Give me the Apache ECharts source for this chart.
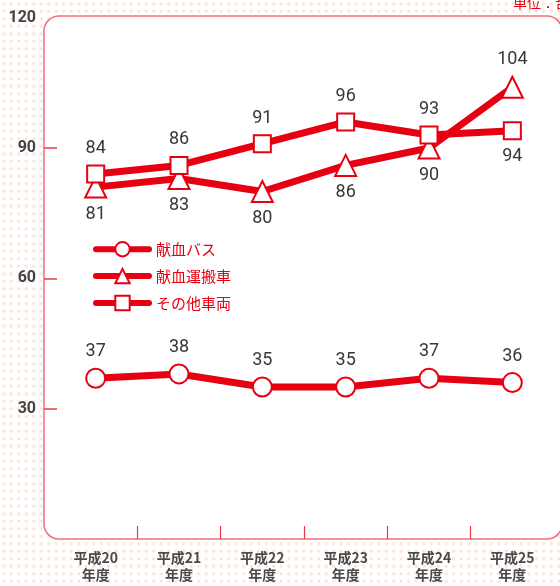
<!DOCTYPE html>
<html><head><meta charset="utf-8">
<script src="https://cdn.jsdelivr.net/npm/echarts@6/dist/echarts.min.js"></script>
<style>html,body{margin:0;padding:0;background:#fff}#c{width:560px;height:586px}</style>
</head><body><div id="c"></div><script>
const categories = ['平成20\n年度','平成21\n年度','平成22\n年度','平成23\n年度','平成24\n年度','平成25\n年度'];
const seriesNames = ['献血バス','献血運搬車','その他車両'];
const busValues = [37, 38, 35, 35, 37, 36];
const carrierValues = [81, 83, 80, 86, 90, 104];
const otherValues = [84, 86, 91, 96, 93, 94];
const yLabelValues = [30, 60, 90, 120];
const yTickMin = 30, yTickMax = 90;
const unitText = '単位：台';

const RED = '#e60012';
const TICK = '#e8384a';
const tile = document.createElement('canvas');
tile.width = 15; tile.height = 15;
const tctx = tile.getContext('2d');
tctx.fillStyle = '#ffffff'; tctx.fillRect(0,0,15,15);
tctx.fillStyle = '#fde6db';
[[3.75,3.75],[11.25,3.75],[3.75,11.25],[11.25,11.25]].forEach(p=>{tctx.beginPath();tctx.arc(p[0],p[1],1.7,0,Math.PI*2);tctx.fill();});

const chart = echarts.init(document.getElementById('c'), null, {renderer:'canvas'});
const last = (arr, pos) => arr.map((v,i)=> i===arr.length-1 ? {value:v, label:{position:pos}} : v);
const labelStyle = (pos)=>({show:true, position:pos, distance:7, color:'#383838', fontSize:18, fontFamily:'Roboto'});
const mk = (name, data, symbol, size, pos) => ({
  name, type:'line', data, symbol, symbolSize:size, showAllSymbol:true,
  xAxisIndex:0, yAxisIndex:1,
  lineStyle:{color:RED, width:7}, itemStyle:{color:'#fff', borderColor:RED, borderWidth:2},
  label: labelStyle(pos), emphasis:{disabled:true}, animation:false
});
const yMax = 120, yStep = 30;
// plot geometry (layout only)
const plotTop = 17.7, plotBottomPx = 539, H = 586;
const pxPerUnit = (plotBottomPx - plotTop) / yMax;
const tickGridTop = plotBottomPx - yTickMax * pxPerUnit;
const tickGridBottom = H - (plotBottomPx - yTickMin * pxPerUnit);

chart.setOption({
  backgroundColor:{image:tile, repeat:'repeat'},
  animation:false,
  textStyle:{fontFamily:'Roboto'},
  graphic:{
    z:-100,
    elements:[
      {type:'rect', z:-100, silent:true, shape:{x:44, y:16, width:518, height:523, r:15}, style:{fill:'#fff', stroke:'#ef6f7c', lineWidth:1.5}},
      {type:'text', x:513, y:10, style:{text:unitText, fill:RED, fontSize:14, fontFamily:'Noto Sans CJK JP', verticalAlign:'bottom'}}
    ]
  },
  legend:{
    orient:'vertical', left:88, top:236, itemWidth:53, itemHeight:18, itemGap:10.5,
    data:seriesNames,
    lineStyle:{width:6, cap:'round'},
    itemStyle:{borderWidth:2},
    textStyle:{color:RED, fontSize:15, fontFamily:'Noto Sans CJK JP', padding:[0,0,0,2]}
  },
  grid:[
    {left:44, width:13, top:tickGridTop, bottom:tickGridBottom, show:true, backgroundColor:'rgba(0,0,0,0)', borderColor:'rgba(0,0,0,0)', borderWidth:0},
    {left:54, right:6, top:plotTop, bottom:H - plotBottomPx}
  ],
  xAxis:[
    {type:'category', gridIndex:1, data:categories, boundaryGap:true,
     axisLine:{show:false}, axisTick:{show:false},
     axisLabel:{color:'#4a4a4a', fontSize:14, fontWeight:'bold', fontFamily:'Noto Sans CJK JP', lineHeight:17, margin:10, interval:0}},
    {type:'value', gridIndex:1, min:0, max:categories.length, position:'bottom',
     axisLine:{show:false}, axisLabel:{show:false}, splitLine:{show:false},
     axisTick:{show:true, inside:true, length:13, lineStyle:{color:TICK, width:1.2}, customValues:categories.slice(1).map((c,i)=>i+1)}},
    {type:'value', gridIndex:0, min:0, max:1, show:false}
  ],
  yAxis:[
    {type:'value', gridIndex:0, min:yTickMin, max:yTickMax, interval:yStep, z:20,
     axisLine:{show:true, lineStyle:{color:'rgba(0,0,0,0)', width:1}}, axisTick:{show:false},
     splitLine:{show:true, lineStyle:{color:TICK, width:1.5}},
     axisLabel:{show:false}},
    {type:'value', gridIndex:1, min:0, max:yMax, interval:yStep, offset:10,
     axisLine:{show:false}, axisTick:{show:false}, splitLine:{show:false},
     axisLabel:{color:'#444', fontSize:16, fontWeight:'bold', fontFamily:'Roboto', margin:8,
       formatter:(v)=> yLabelValues.includes(v) ? String(v) : ''}}
  ],
  series:[
    mk(seriesNames[0], busValues, 'circle', 19, 'top'),
    mk(seriesNames[1], last(carrierValues,'top'), 'triangle', 21, 'bottom'),
    mk(seriesNames[2], last(otherValues,'bottom'), 'rect', 17, 'top')
  ]
});
</script></body></html>
